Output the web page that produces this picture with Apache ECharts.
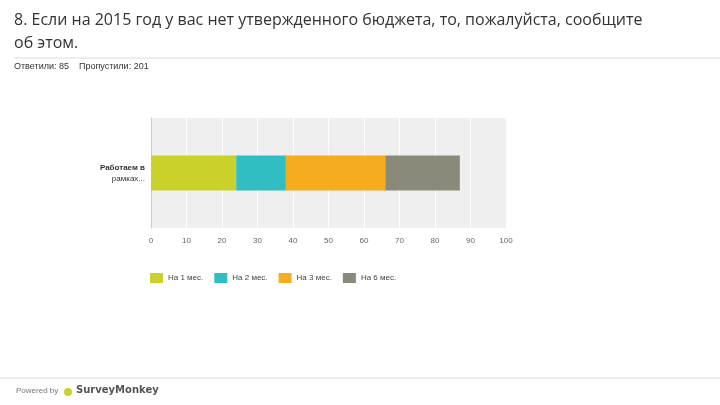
<!DOCTYPE html>
<html><head><meta charset="utf-8">
<script src="https://cdn.jsdelivr.net/npm/echarts@6/dist/echarts.min.js"></script>
<style>html,body{margin:0;padding:0;background:#fff}#c{width:720px;height:405px}</style>
</head><body><div id="c"></div>
<script>
const categories = ['Работаем в\nрамках...'];
const seriesNames = ['На 1 мес.', 'На 2 мес.', 'На 3 мес.', 'На 6 мес.'];
const seriesValues = [[24], [14], [28], [21]];
const colors = ['#c9d12a', '#30bec2', '#f5ac1f', '#8a8a7a'];
const chart = echarts.init(document.getElementById('c'));
chart.setOption({
  animation: false,
  textStyle: {fontFamily: 'Liberation Sans'},
  graphic: [
    {type:'text', left:14, top:12, style:{text:'8. Если на 2015 год у вас нет утвержденного бюджета, то, пожалуйста, сообщите', font:'16px "Open Sans"', fill:'#333'}},
    {type:'text', left:14, top:35, style:{text:'об этом.', font:'16px "Open Sans"', fill:'#333'}},
    {type:'line', shape:{x1:14,y1:58,x2:720,y2:58}, style:{stroke:'#ddd', lineWidth:1}},
    {type:'text', left:14, top:62, style:{text:'Ответили: 85    Пропустили: 201', font:'9px "Liberation Sans"', fill:'#333'}},
    {type:'line', shape:{x1:0,y1:378,x2:720,y2:378}, style:{stroke:'#ddd', lineWidth:1}},
    {type:'text', left:16, top:387, style:{text:'Powered by', font:'8px "Liberation Sans"', fill:'#777'}},
    {type:'circle', shape:{cx:68, cy:392, r:4}, style:{fill:'#c9d12a'}},
    {type:'text', left:76, top:385, style:{text:'SurveyMonkey', font:'bold 10px "DejaVu Sans"', fill:'#555'}}
  ],
  legend: {
    left: 145, top: 268, itemWidth: 13, itemHeight: 10, itemGap: 11,
    icon: 'rect', data: seriesNames,
    textStyle: {fontSize: 8, color: '#444'}
  },
  grid: {left: 151, right: 214, top: 118, height: 110, backgroundColor: '#efefef', show: true, borderWidth: 0},
  xAxis: {type:'value', min:0, max:100, interval:10,
    axisLine:{show:false}, axisTick:{show:false},
    splitLine:{lineStyle:{color:'#fff', width:1}},
    axisLabel:{fontSize:8, color:'#666', margin:9}},
  yAxis: {type:'category', data: categories, axisLine:{show:true, lineStyle:{color:'#ccc'}}, axisTick:{show:false},
    axisLabel:{fontSize:8, color:'#333', align:'right', margin:6, lineHeight:11,
      formatter: v => { const p = v.split('\n'); return '{b|'+p[0]+'}\n'+p[1]; },
      rich:{b:{fontWeight:'bold', fontSize:8, color:'#333'}}}},
  series: seriesNames.map((n,i)=>({
    name:n, type:'bar', stack:'s', data: seriesValues[i], barWidth:35,
    itemStyle:{color:colors[i]}
  }))
});
</script></body></html>
